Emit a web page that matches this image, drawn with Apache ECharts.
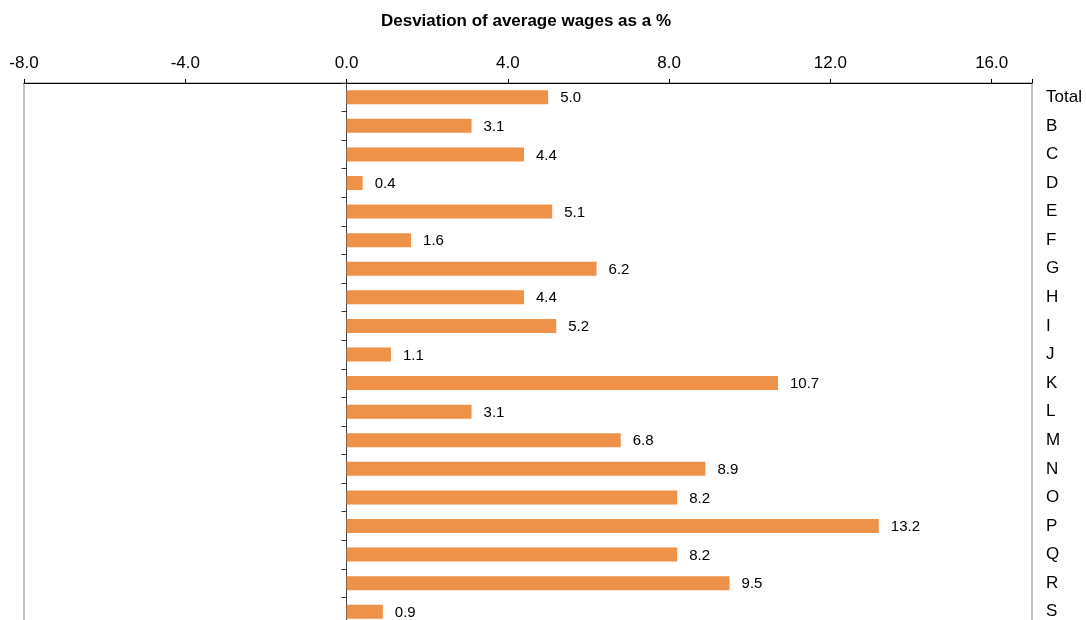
<!DOCTYPE html>
<html>
<head>
<meta charset="utf-8">
<script src="https://cdn.jsdelivr.net/npm/echarts@6/dist/echarts.min.js"></script>
<style>
html,body{margin:0;padding:0;overflow:hidden;background:#fff;}
#chart{width:1086px;height:626px;}
</style>
</head>
<body>
<div id="chart"></div>
<script>
const categories = ['Total','B','C','D','E','F','G','H','I','J','K','L','M','N','O','P','Q','R','S'];
const values = [5.0,3.1,4.4,0.4,5.1,1.6,6.2,4.4,5.2,1.1,10.7,3.1,6.8,8.9,8.2,13.2,8.2,9.5,0.9];
const xTicks = [-8,-4,0,4,8,12,16];
const titleText = 'Desviation of average wages as a %';

const FONT = '"Liberation Sans", Arial, sans-serif';
const chart = echarts.init(document.getElementById('chart'), null, {renderer:'canvas'});
chart.setOption({
  animation:false,
  backgroundColor:'#fff',
  title:{
    text:titleText,
    left:521, top:8, textAlign:'center',
    textStyle:{fontFamily:FONT,fontSize:17,fontWeight:'bold',color:'#000'}
  },
  grid:{left:24,right:54,top:83,bottom:0,show:true,borderColor:'#808080',borderWidth:1,containLabel:false},
  xAxis:{
    type:'value', position:'top', min:xTicks[0], max:17, interval:4,
    axisLine:{show:true,onZero:false,lineStyle:{color:'#000',width:1}},
    axisTick:{show:true,length:4,lineStyle:{color:'#000'}},
    splitLine:{show:false},
    axisLabel:{
      fontFamily:FONT,fontSize:17,color:'#000',margin:11,
      formatter:function(v){return xTicks.indexOf(v)>=0 ? v.toFixed(1) : '';}
    }
  },
  yAxis:[{
    type:'category', data:categories, inverse:true, position:'left',
    axisLine:{show:true,onZero:true,lineStyle:{color:'#444',width:1}},
    axisTick:{show:true,length:5,lineStyle:{color:'#333'}},
    axisLabel:{show:false}
  },{
    type:'category', data:categories, inverse:true, position:'right',
    axisLine:{show:false}, axisTick:{show:false},
    axisLabel:{show:true,fontFamily:FONT,fontSize:17,color:'#000',margin:14}
  }],
  series:[{
    type:'bar', data:values, yAxisIndex:0, barWidth:14,
    itemStyle:{color:'#EE9249'},
    label:{show:true,position:'right',distance:12,offset:[0,1],fontFamily:FONT,fontSize:15,color:'#000',
      formatter:function(p){return p.value.toFixed(1);}}
  }]
});
</script>
</body>
</html>
